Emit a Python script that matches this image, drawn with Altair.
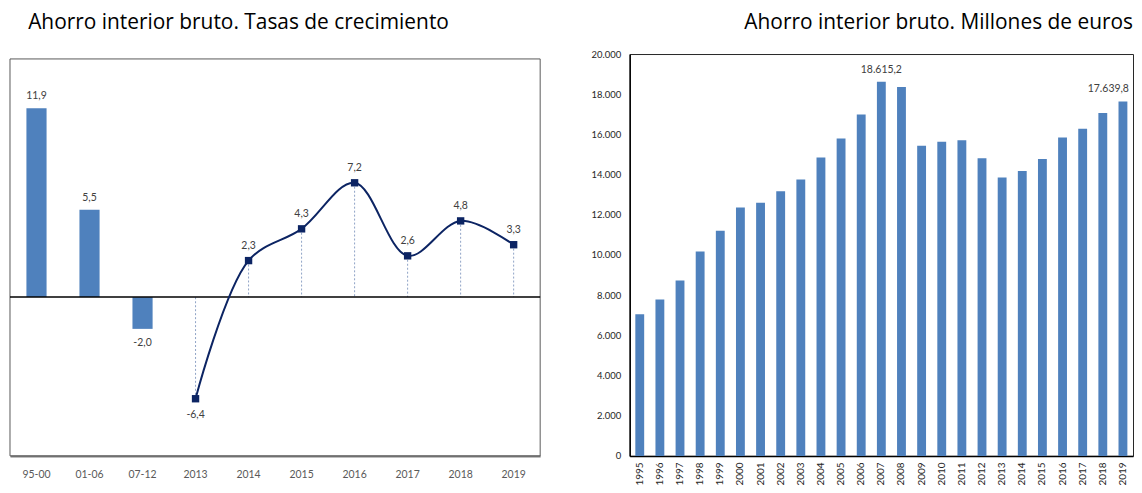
import altair as alt
import pandas as pd

# ---------------- data ----------------
periods = ["95-00", "01-06", "07-12", "2013", "2014", "2015", "2016", "2017", "2018", "2019"]
bar_periods = ["95-00", "01-06", "07-12"]
bar_rates = [11.9, 5.5, -2.0]
line_periods = ["2013", "2014", "2015", "2016", "2017", "2018", "2019"]
line_rates = [-6.4, 2.3, 4.3, 7.2, 2.6, 4.8, 3.3]
frame_range = [15, -10]          # left panel: framed range of growth rates (%)

years = [str(y) for y in range(1995, 2020)]
savings = [7045, 7786, 8724, 10173, 11210, 12362, 12593, 13169, 13761, 14848,
           15802, 16988, 18615.2, 18354, 15440, 15638, 15704, 14815, 13860, 14173,
           14782, 15852, 16280, 17070, 17639.8]
labelled_years = ["2007", "2019"]

title_left = "Ahorro interior bruto. Tasas de crecimiento"
title_right = "Ahorro interior bruto. Millones de euros"

FONT = "Lato"
TFONT = "Open Sans"
BLUE = "#4f81bd"
NAVY = "#0c2463"
LABEL_GRAY = "#404040"

bars_df = pd.DataFrame({"period": bar_periods, "rate": bar_rates, "base": [0.0] * len(bar_rates)})
line_df = pd.DataFrame({"period": line_periods, "rate": line_rates, "base": [0.0] * len(line_rates)})
zero_df = pd.DataFrame({"base": [0.0]})
frame_df = pd.DataFrame({"top": [frame_range[0]], "bottom": [frame_range[1]]})
sav_df = pd.DataFrame({"year": years, "value": savings})

comma_expr = "replace(replace(format(datum.rate, '.1f'), '.', ','), '\u2212', '-')"

yscaleL = alt.Scale(domain=[-10, 15.31], nice=False, zero=False)

xL = alt.X("period:N",
           scale=alt.Scale(domain=periods, paddingInner=0.62, paddingOuter=0.31),
           axis=alt.Axis(title=None, labelAngle=0, ticks=False, labelPadding=14,
                         labelFont=FONT, labelFontSize=10.5, labelColor="#595959",
                         domainColor="#7f7f7f", domainWidth=2))
yL = alt.Y("rate:Q", scale=yscaleL, axis=None)

frame = alt.Chart(frame_df).mark_rect(filled=False, stroke="#595959", strokeWidth=1).encode(
    y=alt.Y("top:Q", scale=yscaleL, axis=None), y2="bottom:Q")

left_bars = alt.Chart(bars_df).mark_bar(color=BLUE).encode(x=xL, y=yL, y2="base:Q")

zero_rule = alt.Chart(zero_df).mark_rule(color="#000000", strokeWidth=1.5).encode(
    y=alt.Y("base:Q", scale=yscaleL, axis=None))

drops = alt.Chart(line_df).mark_rule(color="#8ea2c6", strokeDash=[2, 2], strokeWidth=1).encode(
    x=xL, y=yL, y2="base:Q")

line = alt.Chart(line_df).mark_line(color=NAVY, strokeWidth=2, interpolate="catmull-rom").encode(x=xL, y=yL)
pts = alt.Chart(line_df).mark_square(color=NAVY, size=55, opacity=1).encode(x=xL, y=yL)

def txt(df, cond, dy):
    return alt.Chart(df).transform_filter(cond).transform_calculate(lbl=comma_expr).mark_text(
        font=FONT, fontSize=10.5, color=LABEL_GRAY, dy=dy, baseline="middle").encode(
        x=xL, y=yL, text="lbl:N")

bar_pos = txt(bars_df, "datum.rate >= 0", -12)
bar_neg = txt(bars_df, "datum.rate < 0", 14)
line_pos = txt(line_df, "datum.rate >= 0", -15)
line_neg = txt(line_df, "datum.rate < 0", 16)

left = alt.layer(frame, left_bars, drops, zero_rule, line, pts, bar_pos, bar_neg, line_pos, line_neg).properties(
    width=533, height=404,
    view=alt.ViewBackground(stroke="transparent"),
    title=alt.TitleParams(title_left, anchor="start", dx=19, offset=21,
                          font=TFONT, fontSize=21, fontWeight="normal", color="#000000"))

# ---------------- right chart ----------------
xR = alt.X("year:N",
           scale=alt.Scale(domain=years, paddingInner=0.56, paddingOuter=0.28),
           axis=alt.Axis(title=None, labelAngle=270, ticks=False, labelPadding=6,
                         labelFont=FONT, labelFontSize=10, labelColor="#262626",
                         labelAlign="right", labelBaseline="middle",
                         domainColor="#000000", domainWidth=1.5))
yR = alt.Y("value:Q", scale=alt.Scale(domain=[0, 20000], nice=False),
           axis=alt.Axis(title=None, values=list(range(0, 20001, 2000)), ticks=False,
                         labelPadding=9, grid=False, labelFont=FONT, labelFontSize=9.5,
                         labelColor="#262626", domainColor="#000000", domainWidth=1.5,
                         labelExpr="replace(format(datum.value, ','), ',', '.')"))

right_bars = alt.Chart(sav_df).mark_bar(color=BLUE).encode(x=xR, y=yR)

big_expr = "replace(replace(replace(format(datum.value, ',.1f'), ',', '_'), '.', ','), '_', '.')"
lab_2007 = alt.Chart(sav_df).transform_filter(
    alt.FieldEqualPredicate(field="year", equal=labelled_years[0])).transform_calculate(
    lbl=big_expr).mark_text(font=FONT, fontSize=10.5, color=LABEL_GRAY, dy=-12, baseline="middle").encode(
    x=xR, y=yR, text="lbl:N")
lab_2019 = alt.Chart(sav_df).transform_filter(
    alt.FieldEqualPredicate(field="year", equal=labelled_years[1])).transform_calculate(
    lbl=big_expr).mark_text(font=FONT, fontSize=10.5, color=LABEL_GRAY, dy=-13, dx=6,
                            align="right", baseline="middle").encode(
    x=xR, y=yR, text="lbl:N")

right = alt.layer(right_bars, lab_2007, lab_2019).properties(
    width=506, height=404,
    view=alt.ViewBackground(stroke="#262626", strokeWidth=1),
    title=alt.TitleParams(title_right, anchor="end", offset=16,
                          font=TFONT, fontSize=21, fontWeight="normal", color="#000000"))

chart = alt.hconcat(left, right, spacing=48).properties(
    padding={"left": 0, "top": 2, "right": 0, "bottom": 0}
)

chart.save("out.html", embed_options={"renderer": "svg", "actions": False})
